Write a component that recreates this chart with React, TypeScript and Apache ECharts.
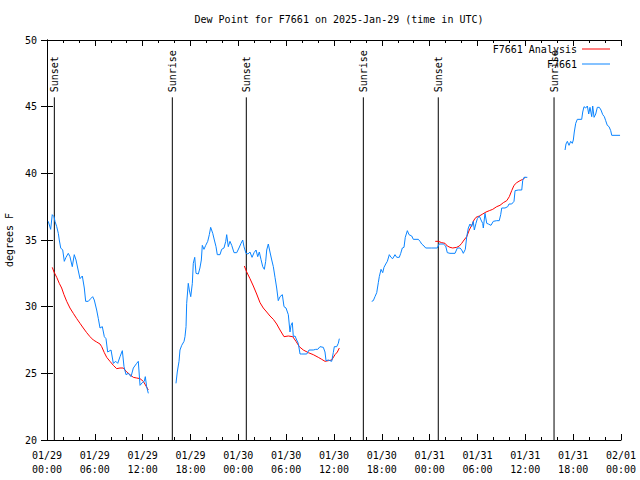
import React, { useEffect, useRef } from "react";
import * as echarts from "echarts";

// Hours since 2025-01-29 00:00 UTC
const START = Date.UTC(2025, 0, 29, 0, 0);
const X_MIN = 0;
const X_MAX = 72;
const X_STEP = 6;
const Y_MIN = 20;
const Y_MAX = 50;
const Y_STEP = 5;

const titleText = "Dew Point for F7661 on 2025-Jan-29 (time in UTC)";
const yName = "degrees F";
const seriesNames = ["F7661 Analysis", "F7661"];

const sunHours = [0.92, 15.72, 25.0, 39.68, 49.08, 63.6];
const sunLabels = ["Sunset", "Sunrise", "Sunset", "Sunrise", "Sunset", "Sunrise"];
const SUN_LINE_TOP = 45.7;

const obs1: [number, number][] = [
  [0.16, 36.4], [0.46, 35.8], [0.66, 36.9], [0.88, 36.75], [1.0, 36.4], [1.22, 36.0],
  [1.42, 35.5], [1.54, 35.0], [1.72, 34.4], [1.97, 34.25], [2.17, 33.4], [2.38, 33.7],
  [2.67, 34.0], [2.88, 33.75], [3.17, 33.0], [3.42, 33.9], [3.64, 33.5], [3.85, 32.9],
  [4.14, 32.1], [4.43, 32.3], [4.68, 31.4], [4.85, 30.4], [5.18, 30.4], [5.48, 30.6],
  [5.73, 30.75], [5.93, 30.5], [6.23, 29.75], [6.44, 29.1], [6.65, 28.4], [6.94, 28.5],
  [7.19, 27.75], [7.4, 27.6], [7.61, 26.6], [8.03, 26.75], [8.32, 25.75], [8.62, 25.9],
  [8.87, 25.75], [9.16, 26.25], [9.45, 26.7], [9.66, 25.5], [9.91, 24.9], [10.2, 25.0],
  [10.54, 24.75], [10.83, 25.4], [11.25, 25.75], [11.45, 25.9], [11.67, 24.1], [11.95, 24.3],
  [12.2, 24.4], [12.33, 24.75], [12.5, 24.0], [12.71, 23.5],
];

const obs2: [number, number][] = [
  [16.18, 24.25], [16.34, 25.1], [16.56, 25.9], [16.68, 26.75], [16.9, 27.1], [17.19, 27.4],
  [17.31, 27.75], [17.44, 28.5], [17.52, 30.25], [17.72, 31.75], [17.85, 31.25], [18.03, 30.75],
  [18.23, 31.75], [18.35, 33.25], [18.53, 33.7], [18.69, 32.5], [18.98, 32.45], [19.18, 32.9],
  [19.36, 33.5], [19.48, 34.6], [19.69, 34.3], [19.91, 34.6], [20.16, 34.9], [20.36, 35.4],
  [20.53, 35.95], [20.79, 35.5], [20.99, 35.0], [21.2, 34.5], [21.36, 33.9], [21.7, 33.9],
  [21.91, 34.3], [22.2, 34.4], [22.42, 34.9], [22.54, 35.4], [22.74, 34.5], [22.95, 34.9],
  [23.17, 34.6], [23.46, 34.05], [23.8, 34.05], [24.08, 34.4], [24.34, 34.75], [24.55, 35.0],
  [24.71, 34.5], [24.96, 34.0], [25.21, 33.95], [25.46, 34.1], [25.72, 33.7], [25.97, 34.05],
  [26.22, 34.25], [26.43, 33.75], [26.63, 34.1], [26.84, 33.55], [27.06, 33.0], [27.26, 32.8],
  [27.43, 33.4], [27.56, 34.25], [27.76, 34.7], [27.97, 34.1], [28.19, 33.5], [28.39, 33.0],
  [28.6, 32.2], [28.81, 31.4], [29.01, 30.45], [29.23, 30.75], [29.52, 30.9], [29.73, 30.0],
  [29.98, 29.9], [30.27, 29.4], [30.48, 28.1], [30.61, 28.6], [30.77, 28.8], [30.9, 27.75],
  [31.11, 27.8], [31.32, 27.5], [31.52, 27.25], [31.74, 26.45], [31.95, 26.45], [32.58, 26.45],
  [32.87, 26.75], [33.4, 26.75], [33.71, 26.8], [33.96, 26.8], [34.24, 27.0], [34.66, 26.95],
  [34.87, 26.6], [35.0, 25.95], [35.29, 26.0], [35.71, 25.9], [35.91, 26.55], [36.04, 27.0],
  [36.34, 27.0], [36.54, 27.25], [36.67, 27.6],
];

const obs3: [number, number][] = [
  [40.73, 30.4], [40.93, 30.45], [41.14, 30.75], [41.36, 31.05], [41.56, 31.8], [41.68, 32.25],
  [41.9, 32.8], [42.11, 32.55], [42.27, 32.95], [42.49, 33.2], [42.69, 33.4], [42.94, 33.9],
  [43.15, 33.7], [43.36, 33.6], [43.65, 33.9], [43.87, 33.7], [44.19, 33.7], [44.37, 34.0],
  [44.57, 34.4], [44.78, 34.45], [44.94, 35.2], [45.2, 35.7], [45.41, 35.4], [45.75, 35.3],
  [45.95, 35.05], [46.58, 35.05], [46.79, 34.9], [47.0, 34.7], [47.29, 34.55], [47.5, 34.4],
  [48.26, 34.4], [48.96, 34.4], [49.17, 34.7], [49.71, 34.7], [50.01, 34.55], [50.21, 34.05],
  [50.55, 34.0], [51.18, 34.0], [51.47, 34.4], [51.81, 34.4], [52.02, 34.25], [52.22, 34.0],
  [52.47, 34.3], [52.65, 35.25], [52.85, 35.9], [53.06, 36.2], [53.27, 36.0], [53.47, 36.4],
  [53.6, 35.75], [53.81, 36.25], [53.98, 36.6], [54.23, 36.8], [54.44, 36.5], [54.65, 36.25],
  [54.73, 35.9], [54.94, 37.0], [55.16, 36.25], [55.36, 36.2], [55.69, 36.1], [55.98, 36.4],
  [56.41, 36.45], [56.73, 36.45], [56.91, 36.9], [57.04, 37.4], [57.45, 37.4], [57.79, 37.5],
  [57.95, 37.7], [58.29, 37.7], [58.58, 37.9], [58.71, 38.7], [59.12, 38.75], [59.55, 38.75],
  [59.67, 39.45], [59.83, 39.7], [60.25, 39.7],
];

const obs4: [number, number][] = [
  [64.98, 41.75], [65.1, 42.2], [65.27, 42.4], [65.48, 42.1], [65.69, 42.4], [65.89, 42.25],
  [66.02, 42.5], [66.14, 43.1], [66.32, 43.75], [66.52, 44.05], [67.07, 44.05], [67.2, 44.6],
  [67.36, 45.0], [67.57, 44.9], [67.78, 45.05], [67.95, 44.45], [68.11, 44.95], [68.33, 44.25],
  [68.45, 45.05], [68.62, 44.2], [68.83, 44.45], [69.03, 44.95], [69.28, 44.95], [69.49, 44.75],
  [69.71, 44.4], [69.91, 44.25], [70.08, 43.95], [70.28, 43.6], [70.5, 43.5], [70.71, 43.2],
  [70.84, 42.85], [71.88, 42.85],
];

const an1: [number, number][] = [
  [0.66, 32.95], [0.88, 32.6], [1.22, 32.2], [1.54, 31.75], [1.84, 31.4], [2.13, 30.9],
  [2.47, 30.4], [2.88, 29.9], [3.3, 29.5], [3.73, 29.1], [4.14, 28.75], [4.55, 28.4],
  [4.98, 28.05], [5.39, 27.75], [5.81, 27.5], [6.23, 27.35], [6.65, 27.2], [6.86, 27.0],
  [7.19, 26.55], [7.49, 26.2], [7.9, 25.9], [8.32, 25.6], [8.74, 25.35], [9.16, 25.4],
  [9.57, 25.4], [10.0, 25.1], [10.41, 24.9], [10.83, 24.7], [11.25, 24.65], [11.67, 24.6],
  [12.08, 24.4], [12.42, 24.05], [12.71, 23.75],
];

const an2: [number, number][] = [
  [24.75, 33.05], [25.05, 32.6], [25.46, 32.1], [25.88, 31.55], [26.3, 30.95], [26.72, 30.3],
  [27.13, 29.9], [27.56, 29.6], [27.97, 29.3], [28.39, 29.05], [28.81, 28.7], [29.23, 28.25],
  [29.73, 27.75], [30.27, 27.8], [30.82, 27.75], [31.23, 27.4], [31.65, 27.0], [32.15, 26.75],
  [32.78, 26.55], [33.4, 26.4], [34.03, 26.2], [34.46, 26.05], [34.87, 25.9], [35.29, 25.95],
  [35.71, 26.0], [36.13, 26.4], [36.42, 26.6], [36.67, 26.9],
];

const an3: [number, number][] = [
  [48.7, 34.9], [49.08, 34.9], [49.51, 34.8], [49.93, 34.75], [50.21, 34.55], [50.55, 34.45],
  [50.89, 34.4], [51.39, 34.45], [51.72, 34.55], [52.02, 34.75], [52.31, 35.0], [52.65, 35.25],
  [52.97, 35.75], [53.27, 36.1], [53.56, 36.5], [53.81, 36.7], [54.23, 36.8], [54.65, 36.95],
  [55.07, 37.1], [55.48, 37.2], [55.91, 37.3], [56.41, 37.5], [56.82, 37.6], [57.24, 37.8],
  [57.67, 37.95], [57.99, 38.25], [58.29, 38.7], [58.58, 39.1], [58.92, 39.3], [59.33, 39.45],
  [59.67, 39.55], [60.0, 39.7],
];

const FONT = '"DejaVu Sans Mono", "Liberation Mono", monospace';

function joinSegments(segs: [number, number][][]): (number | string)[][] {
  const out: (number | string)[][] = [];
  segs.forEach((s, i) => {
    if (i > 0) out.push([(segs[i - 1][segs[i - 1].length - 1][0] + s[0][0]) / 2, "-"]);
    s.forEach((p) => out.push([p[0], p[1]]));
  });
  return out;
}

function pad(n: number) {
  return n < 10 ? "0" + n : "" + n;
}

function fmtHour(h: number) {
  const d = new Date(START + h * 3600 * 1000);
  return `${pad(d.getUTCMonth() + 1)}/${pad(d.getUTCDate())}\n${pad(d.getUTCHours())}:${pad(d.getUTCMinutes())}`;
}

export default function App() {
  const ref = useRef<HTMLDivElement>(null);
  useEffect(() => {
    if (!ref.current) return;
    const chart = echarts.init(ref.current, null, { renderer: "svg" });
    const axisCommon = {
      min: X_MIN,
      max: X_MAX,
      interval: X_STEP,
      splitLine: { show: false },
      axisLine: { show: true, lineStyle: { color: "#000", width: 1 } },
      axisTick: { show: true, inside: true, length: 6, lineStyle: { color: "#000" } },
      minorTick: { show: true, splitNumber: 3, length: 3, lineStyle: { color: "#000" } },
    };
    const yCommon = {
      type: "value" as const,
      min: Y_MIN,
      max: Y_MAX,
      interval: Y_STEP,
      splitLine: { show: false },
      axisLine: { show: true, lineStyle: { color: "#000", width: 1 } },
      axisTick: { show: true, inside: true, length: 6, lineStyle: { color: "#000" } },
    };
    const legendCommon = {
      right: 30,
      padding: 0,
      align: "right",
      icon: "rect",
      itemWidth: 28,
      itemHeight: 1,
      textStyle: { fontFamily: FONT, fontSize: 10, color: "#000" },
    };
    chart.setOption({
      animation: false,
      backgroundColor: "#fff",
      textStyle: { fontFamily: FONT, fontSize: 10, color: "#000" },
      title: {
        text: titleText,
        left: 334,
        top: 9,
        textAlign: "center",
        textStyle: { fontFamily: FONT, fontSize: 10, fontWeight: "normal", color: "#000" },
      },
      grid: {
        left: 47,
        right: 19,
        top: 40,
        bottom: 40,
        show: false,
        containLabel: false,
        outerBoundsMode: "none",
      },
      legend: [
        { ...legendCommon, data: [seriesNames[0]], top: 44 },
        { ...legendCommon, data: [seriesNames[1]], top: 59 },
      ],
      xAxis: [
        {
          type: "value",
          position: "bottom",
          ...axisCommon,
          axisLabel: {
            formatter: (v: number) => fmtHour(v),
            fontFamily: FONT,
            fontSize: 10,
            color: "#000",
            margin: 8,
            lineHeight: 14,
            showMinLabel: true,
            showMaxLabel: true,
          },
        },
        {
          type: "value",
          position: "top",
          ...axisCommon,
          axisLabel: { show: false },
        },
      ],
      yAxis: [
        {
          ...yCommon,
          position: "left",
          name: yName,
          nameLocation: "middle",
          nameGap: 32,
          nameRotate: 90,
          nameTextStyle: { fontFamily: FONT, fontSize: 10, color: "#000" },
          axisLabel: { fontFamily: FONT, fontSize: 10, color: "#000", margin: 10 },
        },
        {
          ...yCommon,
          position: "right",
          axisLabel: { show: false },
        },
      ],
      series: [
        {
          name: "sun",
          type: "custom",
          xAxisIndex: 0,
          yAxisIndex: 0,
          silent: true,
          data: sunHours.map((h) => [h, SUN_LINE_TOP]),
          renderItem: (params: any, api: any) => {
            const t = api.value(0);
            const top = api.coord([t, api.value(1)]);
            const bottom = api.coord([t, Y_MIN]);
            return {
              type: "group",
              children: [
                {
                  type: "line",
                  shape: { x1: top[0], y1: top[1], x2: bottom[0], y2: bottom[1] },
                  style: { stroke: "#000", lineWidth: 1 },
                },
                {
                  type: "text",
                  x: top[0],
                  y: top[1] - 5,
                  rotation: Math.PI / 2,
                  style: {
                    text: sunLabels[params.dataIndex],
                    fill: "#000",
                    font: `10px ${FONT}`,
                    align: "left",
                    verticalAlign: "middle",
                  },
                },
              ],
            };
          },
          z: 1,
        },
        {
          name: seriesNames[0],
          type: "line",
          data: joinSegments([an1, an2, an3]),
          showSymbol: false,
          connectNulls: false,
          lineStyle: { color: "#ff0000", width: 1 },
          itemStyle: { color: "#ff0000" },
          z: 2,
        },
        {
          name: seriesNames[1],
          type: "line",
          data: joinSegments([obs1, obs2, obs3, obs4]),
          showSymbol: false,
          connectNulls: false,
          lineStyle: { color: "#0a84ff", width: 1 },
          itemStyle: { color: "#0a84ff" },
          z: 3,
        },
      ],
    });
    return () => chart.dispose();
  }, []);
  return (
    <div
      ref={ref}
      style={{ position: "fixed", left: 0, top: 0, width: 640, height: 480, background: "#fff" }}
    />
  );
}
